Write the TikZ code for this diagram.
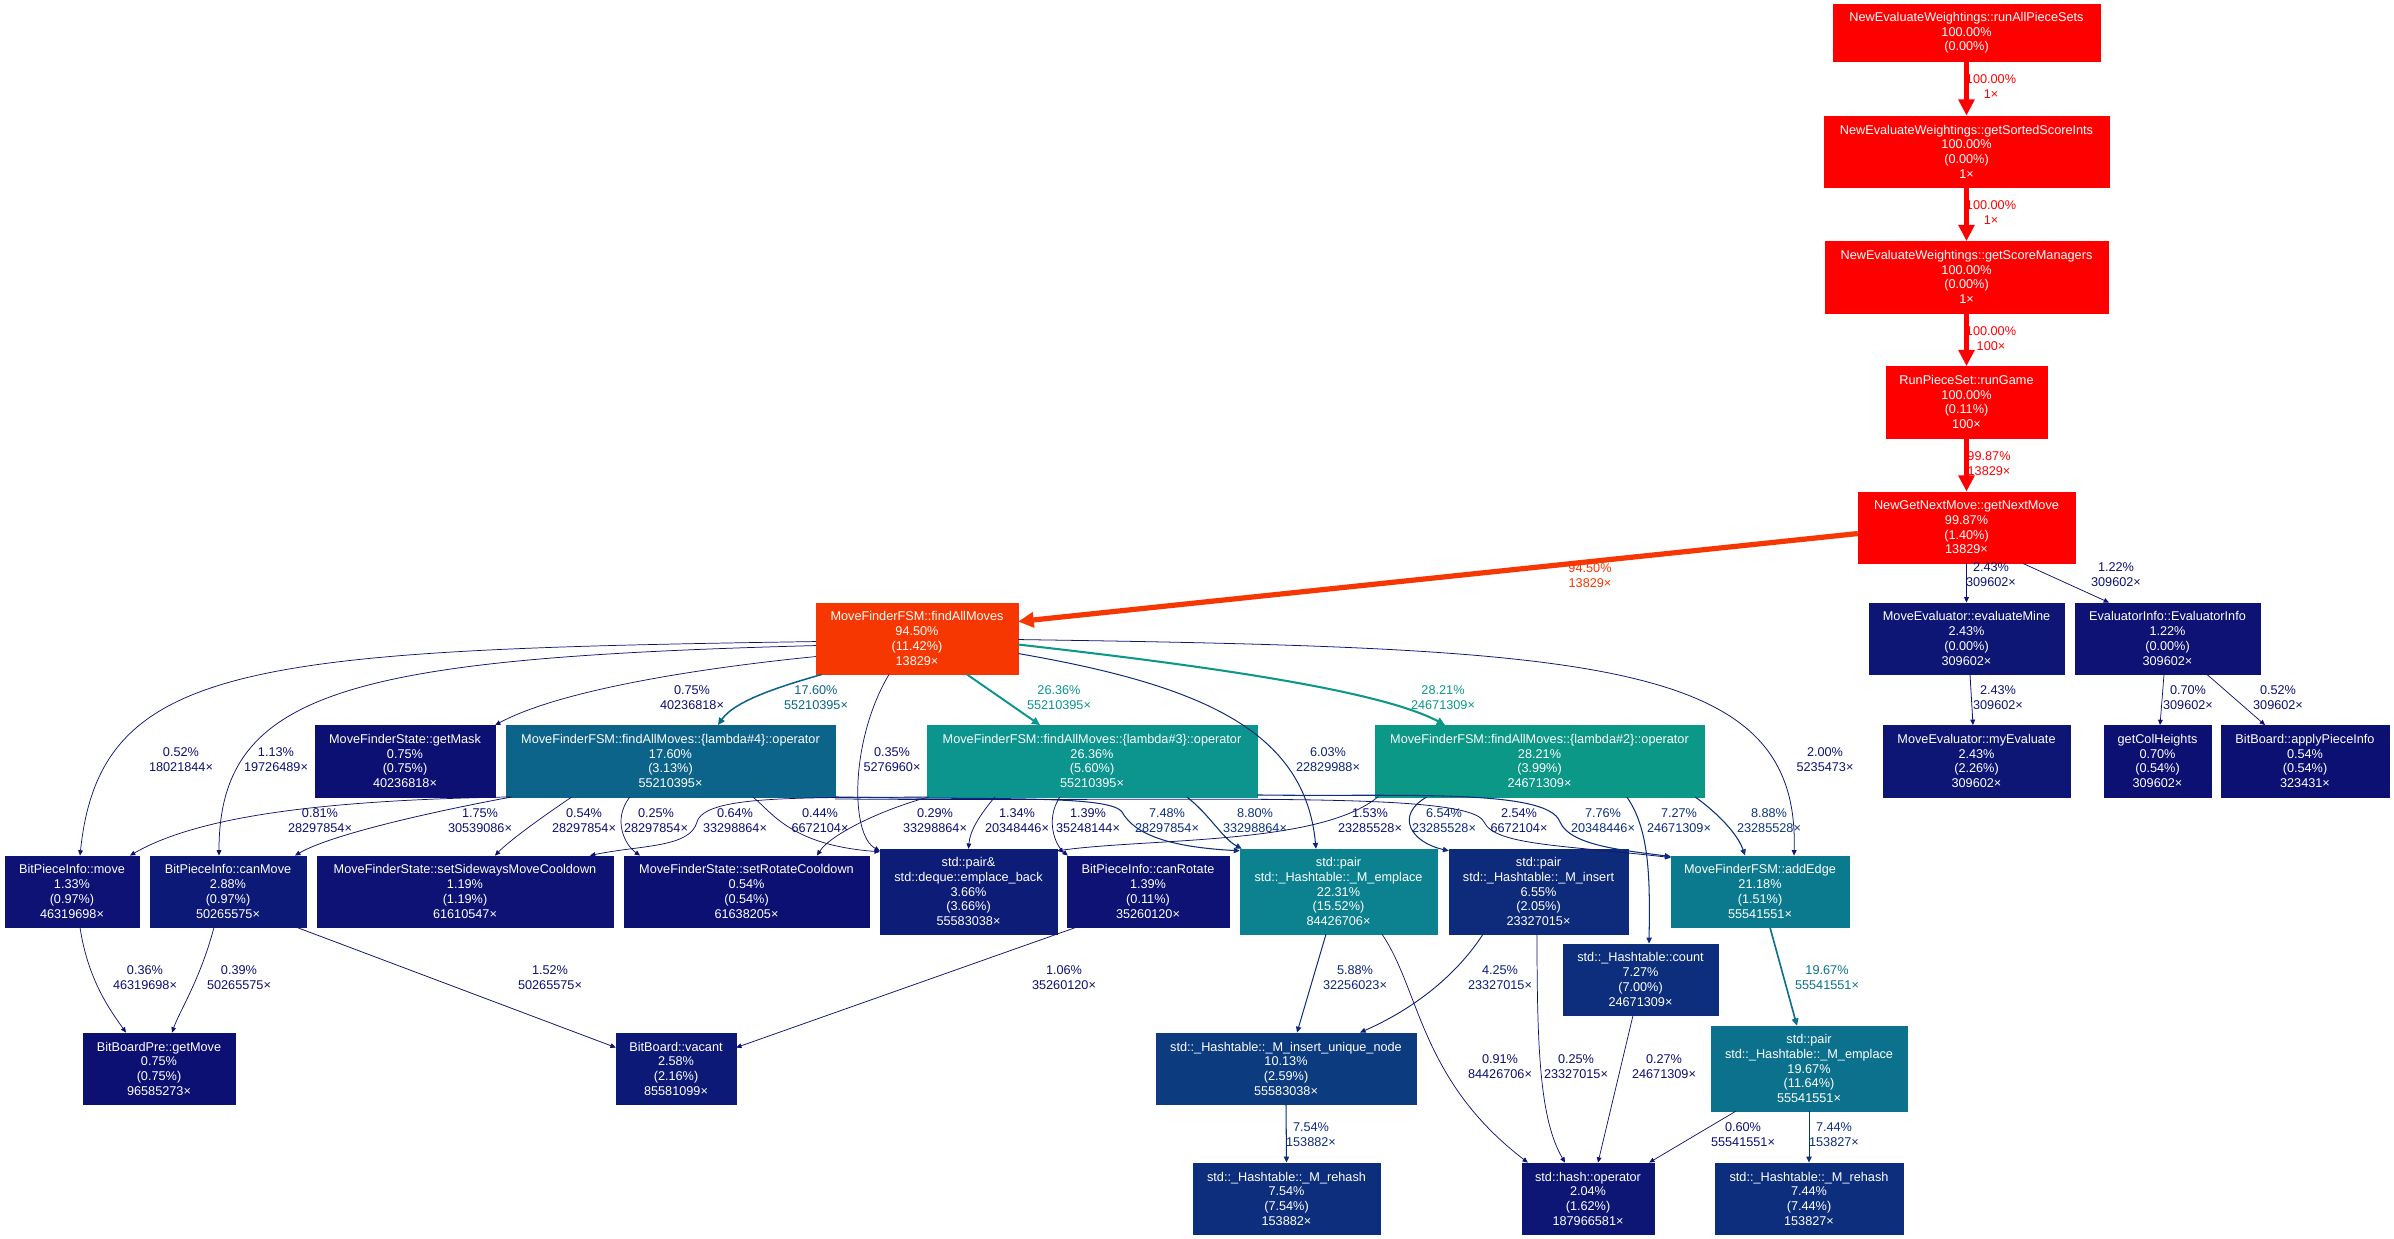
\documentclass[tikz,border=0pt]{standalone}
\usepackage{fontspec}
\setmainfont{Liberation Sans}
\usetikzlibrary{arrows.meta}

% colour scale of the call graph (by inclusive time)
\definecolor{cA}{RGB}{255,0,0}
\definecolor{cB}{RGB}{247,55,1}
\definecolor{cL2}{RGB}{12,152,134}
\definecolor{cL3}{RGB}{12,149,142}
\definecolor{cME}{RGB}{12,130,144}
\definecolor{cAE}{RGB}{12,122,142}
\definecolor{cPE}{RGB}{12,113,140}
\definecolor{cL4}{RGB}{12,100,138}
\definecolor{cIU}{RGB}{13,59,128}
\definecolor{c9}{RGB}{13,53,126}
\definecolor{c8}{RGB}{13,47,125}
\definecolor{c7}{RGB}{13,46,124}
\definecolor{c6}{RGB}{13,42,123}
\definecolor{c6b}{RGB}{13,39,122}
\definecolor{c4}{RGB}{13,31,120}
\definecolor{c3}{RGB}{13,28,119}
\definecolor{c2c}{RGB}{13,25,118}
\definecolor{c2}{RGB}{13,22,117}
\definecolor{c1}{RGB}{13,18,116}
\definecolor{c0}{RGB}{13,16,115}

\begin{document}
\begin{tikzpicture}[x=1pt,y=-1pt,
  nd/.style={fill=#1, draw=#1, text=white, align=center, inner sep=0pt,
    minimum height=71.5pt, font=\fontsize{12.7}{14.7}\selectfont},
  lab/.style={text=#1, align=center, inner sep=0pt, font=\fontsize{12.7}{15}\selectfont},
  call/.style 2 args={draw=#1, line width=#2, -{Triangle[length=3.6pt 2.3, width=3pt 2.3]}},
]
\useasboundingbox (0,0) rectangle (2394,1239);
\fill[white] (0,0) rectangle (2394,1239);

% ---------- functions ----------
\node[nd=cA, minimum width=267pt, minimum height=57pt] (rap) at (1966.5,33) {NewEvaluateWeightings::runAllPieceSets\\100.00\%\\(0.00\%)};
\node[nd=cA, minimum width=285pt] (gss) at (1966.5,151.5) {NewEvaluateWeightings::getSortedScoreInts\\100.00\%\\(0.00\%)\\1×};
\node[nd=cA, minimum width=283pt] (gsm) at (1966.5,277) {NewEvaluateWeightings::getScoreManagers\\100.00\%\\(0.00\%)\\1×};
\node[nd=cA, minimum width=161pt] (rg) at (1966.5,402) {RunPieceSet::runGame\\100.00\%\\(0.11\%)\\100×};
\node[nd=cA, minimum width=217pt] (gnm) at (1966.5,527.5) {NewGetNextMove::getNextMove\\99.87\%\\(1.40\%)\\13829×};

\node[nd=cB, minimum width=202pt] (fam) at (917,638.5) {MoveFinderFSM::findAllMoves\\94.50\%\\(11.42\%)\\13829×};
\node[nd=c2, minimum width=195pt] (em) at (1966.5,638.5) {MoveEvaluator::evaluateMine\\2.43\%\\(0.00\%)\\309602×};
\node[nd=c1, minimum width=185pt] (ei) at (2167.5,638.5) {EvaluatorInfo::EvaluatorInfo\\1.22\%\\(0.00\%)\\309602×};

\node[nd=c0, minimum width=180pt] (gm) at (405,761) {MoveFinderState::getMask\\0.75\%\\(0.75\%)\\40236818×};
\node[nd=cL4, minimum width=329pt] (l4) at (670.5,761) {MoveFinderFSM::findAllMoves::\{lambda\#4\}::operator\\17.60\%\\(3.13\%)\\55210395×};
\node[nd=cL3, minimum width=330pt] (l3) at (1092,761) {MoveFinderFSM::findAllMoves::\{lambda\#3\}::operator\\26.36\%\\(5.60\%)\\55210395×};
\node[nd=cL2, minimum width=329pt] (l2) at (1539.5,761) {MoveFinderFSM::findAllMoves::\{lambda\#2\}::operator\\28.21\%\\(3.99\%)\\24671309×};
\node[nd=c2, minimum width=187pt] (me) at (1976.5,761) {MoveEvaluator::myEvaluate\\2.43\%\\(2.26\%)\\309602×};
\node[nd=c0, minimum width=107pt] (gch) at (2157.5,761) {getColHeights\\0.70\%\\(0.54\%)\\309602×};
\node[nd=c0, minimum width=168pt] (api) at (2305,761) {BitBoard::applyPieceInfo\\0.54\%\\(0.54\%)\\323431×};

\node[nd=c1, minimum width=134pt] (mv) at (72,891.5) {BitPieceInfo::move\\1.33\%\\(0.97\%)\\46319698×};
\node[nd=c2c, minimum width=156pt] (cm) at (228,891.5) {BitPieceInfo::canMove\\2.88\%\\(0.97\%)\\50265575×};
\node[nd=c1, minimum width=296pt] (ssw) at (465,891.5) {MoveFinderState::setSidewaysMoveCooldown\\1.19\%\\(1.19\%)\\61610547×};
\node[nd=c0, minimum width=245pt] (src) at (746.5,891.5) {MoveFinderState::setRotateCooldown\\0.54\%\\(0.54\%)\\61638205×};
\node[nd=c3, minimum width=177pt, minimum height=85pt] (eb) at (968.5,891.5) {std::pair\&\\std::deque::emplace\_back\\3.66\%\\(3.66\%)\\55583038×};
\node[nd=c1, minimum width=162pt] (cr) at (1148,891.5) {BitPieceInfo::canRotate\\1.39\%\\(0.11\%)\\35260120×};
\node[nd=cME, minimum width=197pt, minimum height=85pt] (mem) at (1338.5,891.5) {std::pair\\std::\_Hashtable::\_M\_emplace\\22.31\%\\(15.52\%)\\84426706×};
\node[nd=c6, minimum width=179pt, minimum height=85pt] (mins) at (1538.5,891.5) {std::pair\\std::\_Hashtable::\_M\_insert\\6.55\%\\(2.05\%)\\23327015×};
\node[nd=cAE, minimum width=178pt] (ae) at (1760,891.5) {MoveFinderFSM::addEdge\\21.18\%\\(1.51\%)\\55541551×};

\node[nd=c7, minimum width=155pt] (cnt) at (1640.5,979.5) {std::\_Hashtable::count\\7.27\%\\(7.00\%)\\24671309×};
\node[nd=c0, minimum width=152pt] (gmv) at (159,1068.5) {BitBoardPre::getMove\\0.75\%\\(0.75\%)\\96585273×};
\node[nd=c2c, minimum width=120pt] (vac) at (676,1068.5) {BitBoard::vacant\\2.58\%\\(2.16\%)\\85581099×};
\node[nd=cIU, minimum width=260pt] (iun) at (1286,1068.5) {std::\_Hashtable::\_M\_insert\_unique\_node\\10.13\%\\(2.59\%)\\55583038×};
\node[nd=cPE, minimum width=196pt, minimum height=85pt] (pe2) at (1809,1068.5) {std::pair\\std::\_Hashtable::\_M\_emplace\\19.67\%\\(11.64\%)\\55541551×};

\node[nd=c7, minimum width=187pt] (rh1) at (1286.5,1198.5) {std::\_Hashtable::\_M\_rehash\\7.54\%\\(7.54\%)\\153882×};
\node[nd=c2, minimum width=132pt] (hop) at (1588,1198.5) {std::hash::operator\\2.04\%\\(1.62\%)\\187966581×};
\node[nd=c7, minimum width=188pt] (rh2) at (1809,1198.5) {std::\_Hashtable::\_M\_rehash\\7.44\%\\(7.44\%)\\153827×};

% ---------- calls ----------
\draw[call={cA}{5.48pt}] (rap.south) -- (gss.north);
\draw[call={cA}{5.48pt}] (gss.south) -- (gsm.north);
\draw[call={cA}{5.48pt}] (gsm.south) -- (rg.north);
\draw[call={cA}{5.47pt}] (rg.south) -- (gnm.north);
\draw[call={cB}{5.2pt}] ([yshift=-42pt]gnm.north west) -- ([yshift=-19pt]fam.north east);
\draw[call={c2}{0.8pt}] (gnm.south) -- (em.north);
\draw[call={c1}{0.75pt}] ([xshift=56.5pt]gnm.south) -- ([xshift=-58.5pt]ei.north);
\draw[call={c2}{0.8pt}] ([xshift=3.5pt]em.south) -- ([xshift=-3.5pt]me.north);
\draw[call={c0}{0.72pt}] ([xshift=-3.5pt]ei.south) -- ([xshift=2.5pt]gch.north);
\draw[call={c0}{0.72pt}] ([xshift=39.5pt]ei.south) -- ([xshift=-40pt]api.north);

\draw[call={cL4}{1.53pt}] ([xshift=6pt]fam.south west) .. controls (785,685) and (735,700) .. ([xshift=47.5pt]l4.north);
\draw[call={c0}{0.72pt}] ([yshift=-54pt]fam.north west) .. controls (700,668) and (560,690) .. (gm.north east);
\draw[call={c0}{0.72pt}] ([yshift=-39pt]fam.north west) .. controls (250,650) and (100,662) .. ([xshift=8pt]mv.north);
\draw[call={c1}{0.75pt}] ([yshift=-43pt]fam.north west) .. controls (350,658) and (219,690) .. ([xshift=-9pt]cm.north);
\draw[call={c0}{0.72pt}] ([xshift=-28pt]fam.south) .. controls (850,740) and (850,835) .. ([yshift=-2pt]eb.north west);
\draw[call={cL3}{1.95pt}] ([xshift=50pt]fam.south) -- ([xshift=-52pt]l3.north);
\draw[call={c6b}{0.97pt}] ([yshift=-51pt]fam.north east) .. controls (1200,685) and (1305,730) .. ([xshift=-22.5pt]mem.north);
\draw[call={cL2}{2.04pt}] ([yshift=-42pt]fam.north east) .. controls (1200,665) and (1380,690) .. ([xshift=-94.5pt]l2.north);
\draw[call={c2}{0.78pt}] ([yshift=-37pt]fam.north east) .. controls (1600,648) and (1800,660) .. ([xshift=34pt]ae.north);

\draw[call={c0}{0.72pt}] ([xshift=4pt]l4.south west) .. controls (330,800) and (200,815) .. ([xshift=58pt]mv.north);
\draw[call={c1}{0.77pt}] ([xshift=6pt]l4.south west) .. controls (430,812) and (330,835) .. ([xshift=67pt]cm.north);
\draw[call={c0}{0.72pt}] ([xshift=66pt]l4.south west) .. controls (545,815) and (510,840) .. ([xshift=30pt]ssw.north);
\draw[call={c0}{0.72pt}] ([xshift=124pt]l4.south west) .. controls (612,820) and (625,845) .. ([xshift=-106.5pt]src.north);
\draw[call={c0}{0.72pt}] (l3.south west) .. controls (800,798) and (705,795) .. (697,822) .. controls (690,848) and (640,845) .. ([xshift=125pt]ssw.north);
\draw[call={c0}{0.72pt}] ([xshift=247pt]l4.south west) .. controls (772,812) and (790,845) .. ([yshift=-3pt]eb.north west);
\draw[call={c0}{0.72pt}] ([xshift=2pt]l3.south west) .. controls (880,810) and (830,835) .. ([xshift=70.5pt]src.north);
\draw[call={c1}{0.75pt}] ([xshift=68pt]l3.south west) .. controls (980,815) and (970,830) .. (eb.north);
\draw[call={c1}{0.75pt}] ([xshift=133pt]l3.south west) .. controls (1045,820) and (1055,845) .. ([xshift=1pt]cr.north west);
\draw[call={c7}{1.04pt}] (l4.south east) .. controls (1000,800) and (1110,795) .. (1122,812) .. controls (1135,835) and (1170,847) .. ([yshift=-2pt]mem.north west);
\draw[call={c9}{1.11pt}] ([xshift=260pt]l3.south west) .. controls (1210,815) and (1222,838) .. ([xshift=2pt]mem.north west);
\draw[call={c1}{0.77pt}] ([xshift=3pt]l2.south west) .. controls (1320,845) and (1150,838) .. ([yshift=-2pt]eb.north east);
\draw[call={c6}{1.0pt}] ([xshift=52pt]l2.south west) .. controls (1395,815) and (1410,842) .. ([yshift=-2pt]mins.north west);
\draw[call={c2c}{0.8pt}] ([yshift=-2pt]l4.south east) .. controls (1200,802) and (1470,790) .. (1484,822) .. controls (1495,845) and (1560,845) .. ([yshift=-2pt]ae.north west);
\draw[call={c8}{1.06pt}] ([yshift=2pt]l3.south east) .. controls (1400,797) and (1548,788) .. (1560,822) .. controls (1570,845) and (1620,850) .. ([yshift=-1pt]ae.north west);
\draw[call={c7}{1.03pt}] ([xshift=252pt]l2.south west) .. controls (1650,830) and (1650,880) .. ([xshift=8.5pt]cnt.north);
\draw[call={c9}{1.11pt}] ([xshift=-9pt]l2.south east) .. controls (1720,815) and (1738,835) .. ([xshift=-15pt]ae.north);

\draw[call={c0}{0.72pt}] ([xshift=8pt]mv.south) .. controls (88,980) and (110,1010) .. ([xshift=-33pt]gmv.north);
\draw[call={c0}{0.72pt}] ([xshift=-14pt]cm.south) .. controls (200,980) and (180,1010) .. ([xshift=13pt]gmv.north);
\draw[call={c1}{0.77pt}] ([xshift=69pt]cm.south) -- ([yshift=-15pt]vac.north west);
\draw[call={c1}{0.75pt}] ([xshift=9pt]cr.south west) -- ([yshift=-15pt]vac.north east);
\draw[call={c6b}{0.97pt}] ([xshift=-12.5pt]mem.south) -- ([xshift=11pt]iun.north);
\draw[call={c4}{0.89pt}] ([xshift=-55.5pt]mins.south) .. controls (1450,985) and (1400,1015) .. ([xshift=74pt]iun.north);
\draw[call={cPE}{1.63pt}] ([xshift=10pt]ae.south) -- ([xshift=-12pt]pe2.north);
\draw[call={c0}{0.72pt}] ([xshift=43.5pt]mem.south) .. controls (1420,990) and (1420,1080) .. ([xshift=6pt]hop.north west);
\draw[call={c0}{0.72pt}] ([xshift=-1.5pt]mins.south) .. controls (1537,1050) and (1540,1120) .. ([xshift=-23pt]hop.north);
\draw[call={c0}{0.72pt}] ([xshift=-7.5pt]cnt.south) -- ([xshift=10pt]hop.north);
\draw[call={c7}{1.05pt}] (iun.south) -- (rh1.north);
\draw[call={c0}{0.72pt}] ([xshift=25pt]pe2.south west) -- ([xshift=-5pt]hop.north east);
\draw[call={c7}{1.04pt}] (pe2.south) -- (rh2.north);

% ---------- call labels ----------
\node[lab=cA] (t1) at (1991,87) {100.00\%\\1×};
\node[lab=cA] (t2) at (1991,213) {100.00\%\\1×};
\node[lab=cA] (t3) at (1991,339) {100.00\%\\100×};
\node[lab=cA] (t4) at (1989,464) {99.87\%\\13829×};
\node[lab=cB] (t5) at (1590,576) {94.50\%\\13829×};
\node[lab=c2] (t6) at (1991,575) {2.43\%\\309602×};
\node[lab=c1] (t7) at (2116,575) {1.22\%\\309602×};
\node[lab=c2] (t8) at (1998,698) {2.43\%\\309602×};
\node[lab=c0] (t9) at (2188,698) {0.70\%\\309602×};
\node[lab=c0] (t10) at (2278,698) {0.52\%\\309602×};
\node[lab=cL4] (t11) at (816,698) {17.60\%\\55210395×};
\node[lab=c0] (t12) at (692,698) {0.75\%\\40236818×};
\node[lab=c0] (t13) at (181,760) {0.52\%\\18021844×};
\node[lab=c1] (t14) at (276,760) {1.13\%\\19726489×};
\node[lab=c0] (t15) at (892,760) {0.35\%\\5276960×};
\node[lab=cL3] (t16) at (1059,698) {26.36\%\\55210395×};
\node[lab=c6b] (t17) at (1328,760) {6.03\%\\22829988×};
\node[lab=cL2] (t18) at (1443,698) {28.21\%\\24671309×};
\node[lab=c2] (t19) at (1825,760) {2.00\%\\5235473×};
\node[lab=c0] (t20) at (320,821) {0.81\%\\28297854×};
\node[lab=c1] (t21) at (480,821) {1.75\%\\30539086×};
\node[lab=c0] (t22) at (584,821) {0.54\%\\28297854×};
\node[lab=c0] (t23) at (656,821) {0.25\%\\28297854×};
\node[lab=c0] (t24) at (735,821) {0.64\%\\33298864×};
\node[lab=c0] (t25) at (820,821) {0.44\%\\6672104×};
\node[lab=c0] (t26) at (935,821) {0.29\%\\33298864×};
\node[lab=c1] (t27) at (1017,821) {1.34\%\\20348446×};
\node[lab=c1] (t28) at (1088,821) {1.39\%\\35248144×};
\node[lab=c7] (t29) at (1167,821) {7.48\%\\28297854×};
\node[lab=c9] (t30) at (1255,821) {8.80\%\\33298864×};
\node[lab=c1] (t31) at (1370,821) {1.53\%\\23285528×};
\node[lab=c6] (t32) at (1444,821) {6.54\%\\23285528×};
\node[lab=c2c] (t33) at (1519,821) {2.54\%\\6672104×};
\node[lab=c8] (t34) at (1603,821) {7.76\%\\20348446×};
\node[lab=c7] (t35) at (1679,821) {7.27\%\\24671309×};
\node[lab=c9] (t36) at (1769,821) {8.88\%\\23285528×};
\node[lab=c0] (t37) at (145,978) {0.36\%\\46319698×};
\node[lab=c0] (t38) at (239,978) {0.39\%\\50265575×};
\node[lab=c1] (t39) at (550,978) {1.52\%\\50265575×};
\node[lab=c1] (t40) at (1064,978) {1.06\%\\35260120×};
\node[lab=c6b] (t41) at (1355,978) {5.88\%\\32256023×};
\node[lab=c4] (t42) at (1500,978) {4.25\%\\23327015×};
\node[lab=cPE] (t43) at (1827,978) {19.67\%\\55541551×};
\node[lab=c0] (t44) at (1500,1067) {0.91\%\\84426706×};
\node[lab=c0] (t45) at (1576,1067) {0.25\%\\23327015×};
\node[lab=c0] (t46) at (1664,1067) {0.27\%\\24671309×};
\node[lab=c7] (t47) at (1311,1135) {7.54\%\\153882×};
\node[lab=c0] (t48) at (1743,1135) {0.60\%\\55541551×};
\node[lab=c7] (t49) at (1834,1135) {7.44\%\\153827×};
\end{tikzpicture}
\end{document}
